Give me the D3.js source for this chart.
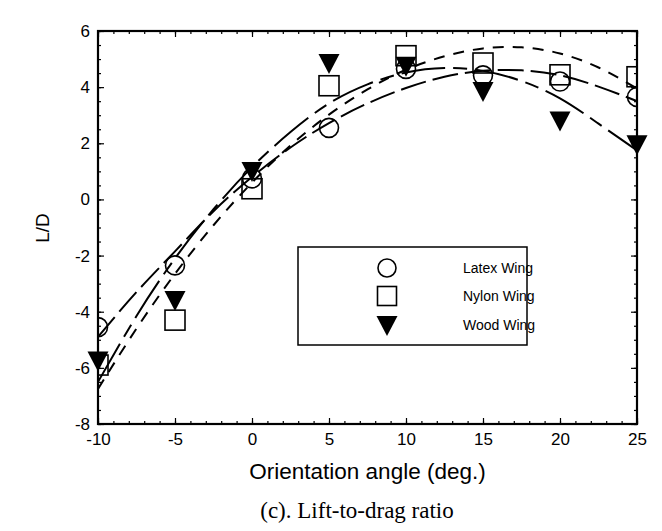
<!DOCTYPE html>
<html>
<head>
<meta charset="utf-8">
<script src="https://cdn.jsdelivr.net/npm/d3@7"></script>
<style>
  html, body { margin: 0; padding: 0; background: #fff; }
  svg { display: block; }
  text { font-family: Arial, "Liberation Sans", sans-serif; fill: #000; }
</style>
</head>
<body>
<svg id="chart" width="662" height="531"></svg>
<script>
// Orientation angles (deg.)
const angles = [-10, -5, 0, 5, 10, 15, 20, 25];

// Measured lift-to-drag ratios
const latex = [-4.55, -2.35, 0.75, 2.55, 4.65, 4.42, 4.2, 3.65];
const nylon = [-5.9, -4.3, 0.38, 4.05, 5.12, 4.86, 4.44, 4.37];
const wood  = [-5.7, -3.55, 1.05, 4.9, 4.8, 3.9, 2.85, 2.0];

// Trend curves, sampled along the angle range
const curveAngles = [-10, -7.5, -5, -2.5, 0, 2.5, 5, 7.5, 10, 12.5, 15, 17.5, 20, 22.5, 25];
const latexCurve = [-4.9, -3.3, -1.85, -0.42, 0.8, 1.85, 2.72, 3.42, 3.97, 4.37, 4.58, 4.6, 4.42, 4.02, 3.5];
const nylonCurve = [-6.75, -4.6, -2.65, -0.92, 0.6, 1.92, 3.02, 3.92, 4.62, 5.1, 5.38, 5.42, 5.2, 4.7, 3.95];
const woodCurve  = [-6.5, -4.15, -2.1, -0.35, 1.15, 2.4, 3.42, 4.1, 4.52, 4.68, 4.58, 4.22, 3.6, 2.7, 1.75];

const xTicks = [-10, -5, 0, 5, 10, 15, 20, 25];
const yTicks = [-8, -6, -4, -2, 0, 2, 4, 6];
const seriesNames = ["Latex Wing", "Nylon Wing", "Wood Wing"];

const svg = d3.select("#chart");
const plotLeft = 98, plotRight = 637, plotTop = 31, plotBottom = 424;

const x = d3.scaleLinear().domain([-10, 25]).range([plotLeft, plotRight]);
const y = d3.scaleLinear().domain([-8, 6]).range([plotBottom, plotTop]);

svg.append("defs").append("clipPath").attr("id", "plotClip")
  .append("rect").attr("x", plotLeft).attr("y", plotTop)
  .attr("width", plotRight - plotLeft).attr("height", plotBottom - plotTop);

// Axes with inward ticks on all four sides
const xMinor = d3.range(-10, 25.01, 1);
const yMinor = d3.range(-8, 6.01, 0.5);
const plain = d => String(d);

function axisGroup(axis, tx, ty) {
  const g = svg.append("g").attr("transform", `translate(${tx},${ty})`).call(axis);
  g.select(".domain").remove();
  g.selectAll(".tick line").attr("stroke", "#000").attr("stroke-width", 1.2);
  g.selectAll("text").attr("font-size", 17)
    .attr("font-family", "Arial, 'Liberation Sans', sans-serif").attr("fill", "#000");
  return g;
}

// minor ticks
axisGroup(d3.axisBottom(x).tickValues(xMinor).tickSize(-3).tickFormat(""), 0, plotBottom);
axisGroup(d3.axisTop(x).tickValues(xMinor).tickSize(-3).tickFormat(""), 0, plotTop);
axisGroup(d3.axisLeft(y).tickValues(yMinor).tickSize(-3).tickFormat(""), plotLeft, 0);
axisGroup(d3.axisRight(y).tickValues(yMinor).tickSize(-3).tickFormat(""), plotRight, 0);

// major ticks with labels
axisGroup(d3.axisBottom(x).tickValues(xTicks).tickSize(-6).tickPadding(9).tickFormat(plain), 0, plotBottom);
axisGroup(d3.axisTop(x).tickValues(xTicks).tickSize(-6).tickFormat(""), 0, plotTop);
axisGroup(d3.axisLeft(y).tickValues(yTicks).tickSize(-6).tickPadding(8).tickFormat(plain), plotLeft, 0);
axisGroup(d3.axisRight(y).tickValues(yTicks).tickSize(-6).tickFormat(""), plotRight, 0);

// frame
svg.append("rect").attr("x", plotLeft).attr("y", plotTop)
  .attr("width", plotRight - plotLeft).attr("height", plotBottom - plotTop)
  .attr("fill", "none").attr("stroke", "#000").attr("stroke-width", 2.2);

// trend curves
const line = d3.line().x(d => x(d[0])).y(d => y(d[1])).curve(d3.curveNatural);
const curves = [
  { vals: latexCurve, dash: "26,7" },
  { vals: nylonCurve, dash: "11,9" },
  { vals: woodCurve, dash: "44,8,14,8" }
];
curves.forEach(c => {
  svg.append("path")
    .datum(curveAngles.map((a, i) => [a, c.vals[i]]))
    .attr("d", line)
    .attr("fill", "none").attr("stroke", "#000")
    .attr("stroke-width", 2).attr("stroke-dasharray", c.dash);
});

// markers (circles and squares clipped to the frame)
const clipped = svg.append("g").attr("clip-path", "url(#plotClip)");
clipped.selectAll("circle.latex").data(angles).join("circle")
  .attr("class", "latex")
  .attr("cx", (d) => x(d)).attr("cy", (d, i) => y(latex[i])).attr("r", 9.5)
  .attr("fill", "none").attr("stroke", "#000").attr("stroke-width", 1.6);

const sq = 20;
clipped.selectAll("rect.nylon").data(angles).join("rect")
  .attr("class", "nylon")
  .attr("x", d => x(d) - sq / 2).attr("y", (d, i) => y(nylon[i]) - sq / 2)
  .attr("width", sq).attr("height", sq)
  .attr("fill", "none").attr("stroke", "#000").attr("stroke-width", 1.6);

const tri = (cx, cy) => `M${cx - 10.5},${cy - 8}L${cx + 10.5},${cy - 8}L${cx},${cy + 12}Z`;
svg.selectAll("path.wood").data(angles).join("path")
  .attr("class", "wood")
  .attr("d", (d, i) => tri(x(d), y(wood[i])))
  .attr("fill", "#000");

// legend
const lg = svg.append("g");
lg.append("rect").attr("x", 298).attr("y", 247).attr("width", 229).attr("height", 98)
  .attr("fill", "#fff").attr("stroke", "#000").attr("stroke-width", 1.5);
const rows = [268, 296, 325];
lg.append("circle").attr("cx", 387).attr("cy", rows[0]).attr("r", 9)
  .attr("fill", "none").attr("stroke", "#000").attr("stroke-width", 1.6);
lg.append("rect").attr("x", 387 - 9.5).attr("y", rows[1] - 9.5).attr("width", 19).attr("height", 19)
  .attr("fill", "none").attr("stroke", "#000").attr("stroke-width", 1.6);
lg.append("path").attr("d", tri(387, rows[2] - 1)).attr("fill", "#000");
seriesNames.forEach((n, i) => {
  lg.append("text").attr("x", 463).attr("y", rows[i]).attr("dy", "0.35em")
    .attr("font-size", 14).text(n);
});

// titles
svg.append("text").attr("x", (plotLeft + plotRight) / 2).attr("y", 479)
  .attr("text-anchor", "middle").attr("font-size", 22.5).text("Orientation angle (deg.)");
svg.append("text").attr("transform", "translate(49,228) rotate(-90)")
  .attr("text-anchor", "middle").attr("font-size", 19).text("L/D");
svg.append("text").attr("x", 357).attr("y", 518)
  .attr("text-anchor", "middle").attr("font-size", 23)
  .style("font-family", "'Liberation Serif', 'Times New Roman', serif")
  .text("(c). Lift-to-drag ratio");
</script>
</body>
</html>
